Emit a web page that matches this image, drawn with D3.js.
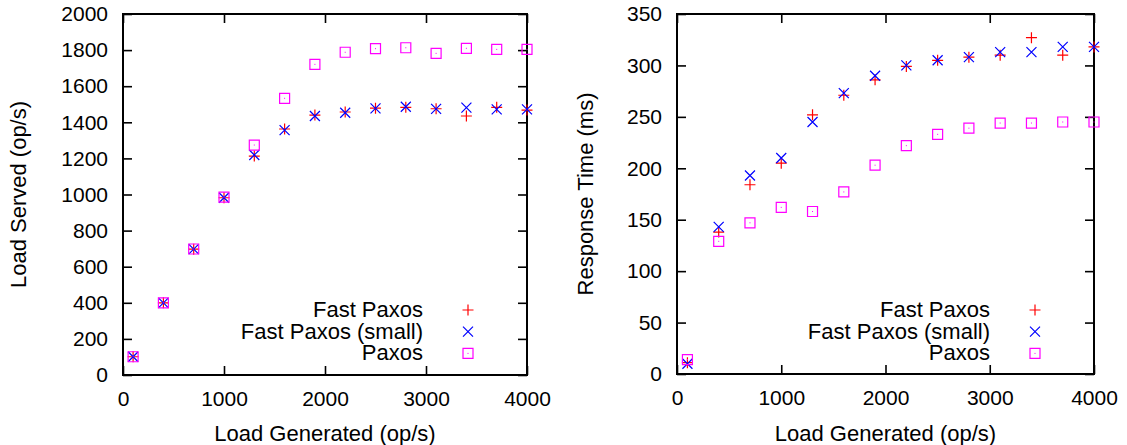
<html>
<head>
<script src="https://d3js.org/d3.v7.min.js"></script>
<style>
  html, body { margin: 0; padding: 0; background: #fff; }
  text { font-family: "Liberation Sans", Arial, sans-serif; fill: #000; }
</style>
</head>
<body>
<div id="chart"></div>
<script>
// offered load (x) shared by both panels
const loadGenerated = [100, 400, 700, 1000, 1300, 1600, 1900, 2200, 2500, 2800, 3100, 3400, 3700, 4000];

// left panel: load served (op/s)
const servedFast  = [101, 400, 697, 982, 1213, 1363, 1440, 1457, 1478, 1483, 1475, 1435, 1483, 1468];
const servedSmall = [101, 400, 697, 982, 1219, 1357, 1435, 1453, 1477, 1486, 1474, 1481, 1472, 1472];
const servedPaxos = [101, 400, 698, 985, 1274, 1533, 1721, 1788, 1808, 1813, 1782, 1810, 1804, 1804];

// right panel: response time (ms)
const respFast  = [11, 138, 184, 205, 252, 271, 286, 299, 305, 308, 310, 327, 310, 318];
const respSmall = [10, 143, 193, 210, 245, 273, 290, 300, 305, 308, 313, 313, 318, 318];
const respPaxos = [14, 129, 147, 162, 158, 177, 203, 222, 233, 239, 244, 244, 245, 245];

const seriesNames = ["Fast Paxos", "Fast Paxos (small)", "Paxos"];
const xTicks = [0, 1000, 2000, 3000, 4000];
const servedTicks = d3.range(0, 2001, 200);
const respTicks = d3.range(0, 351, 50);

const colors = ["#ff0000", "#0000ff", "#ff00ff"];
const shapes = ["plus", "cross", "square"];

const svg = d3.select("#chart").append("svg")
    .attr("width", 1127)
    .attr("height", 445);

function marker(g, shape, color, cx, cy) {
    let d;
    if (shape === "plus") {
        d = `M${cx - 5.5},${cy}H${cx + 5.5}M${cx},${cy - 5.5}V${cy + 5.5}`;
    } else if (shape === "cross") {
        d = `M${cx - 5},${cy - 5}L${cx + 5},${cy + 5}M${cx - 5},${cy + 5}L${cx + 5},${cy - 5}`;
    } else {
        d = `M${cx - 5},${cy - 5}H${cx + 5}V${cy + 5}H${cx - 5}Z`;
        g.append("rect")
            .attr("x", cx - 0.5).attr("y", cy - 0.5)
            .attr("width", 1).attr("height", 1)
            .attr("fill", color);
    }
    g.append("path")
        .attr("d", d)
        .attr("fill", "none")
        .attr("stroke", color)
        .attr("stroke-width", 1.2);
}

function drawPanel(p) {
    const x = d3.scaleLinear().domain([0, 4000]).range([p.left, p.right]);
    const y = d3.scaleLinear().domain([0, p.yMax]).range([p.bottom, p.top]);
    const g = svg.append("g");
    const fmt = d3.format("d");

    // inward ticks on all four sides
    const tickLen = 9;
    g.append("g")
        .attr("transform", `translate(0,${p.bottom})`)
        .call(d3.axisBottom(x).tickValues(xTicks).tickSize(-tickLen).tickPadding(16).tickFormat(fmt));
    g.append("g")
        .attr("transform", `translate(0,${p.top})`)
        .call(d3.axisTop(x).tickValues(xTicks).tickSize(-tickLen).tickFormat(""));
    g.append("g")
        .attr("transform", `translate(${p.left},0)`)
        .call(d3.axisLeft(y).tickValues(p.yTicks).tickSize(-tickLen).tickPadding(15).tickFormat(fmt));
    g.append("g")
        .attr("transform", `translate(${p.right},0)`)
        .call(d3.axisRight(y).tickValues(p.yTicks).tickSize(-tickLen).tickFormat(""));

    g.selectAll(".domain").remove();
    g.selectAll(".tick line").attr("stroke", "#000").attr("stroke-width", 1.6);
    g.selectAll(".tick text").attr("font-size", 21).attr("fill", "#000")
        .style("font-family", '"Liberation Sans", Arial, sans-serif');

    // frame
    g.append("rect")
        .attr("x", p.left).attr("y", p.top)
        .attr("width", p.right - p.left).attr("height", p.bottom - p.top)
        .attr("fill", "none").attr("stroke", "#000").attr("stroke-width", 2);

    // axis titles
    g.append("text")
        .attr("x", (p.left + p.right) / 2)
        .attr("y", 441)
        .attr("text-anchor", "middle")
        .attr("font-size", 22)
        .text("Load Generated (op/s)");
    g.append("text")
        .attr("transform", `translate(${p.yLabelX},${(p.top + p.bottom) / 2}) rotate(-90)`)
        .attr("text-anchor", "middle")
        .attr("font-size", 22)
        .text(p.yLabel);

    // points
    p.series.forEach((vals, i) => {
        const sg = g.append("g");
        vals.forEach((v, j) => marker(sg, shapes[i], colors[i], x(loadGenerated[j]), y(v)));
    });

    // legend
    seriesNames.forEach((name, i) => {
        const cy = 310 + i * 21.7;
        g.append("text")
            .attr("x", p.legendTextX)
            .attr("y", cy + 7)
            .attr("text-anchor", "end")
            .attr("font-size", 22)
            .text(name);
        marker(g, shapes[i], colors[i], p.legendMarkX, cy);
    });
}

drawPanel({
    left: 123, right: 527, top: 14, bottom: 375,
    yMax: 2000, yTicks: servedTicks,
    yLabel: "Load Served (op/s)", yLabelX: 26,
    series: [servedFast, servedSmall, servedPaxos],
    legendTextX: 423, legendMarkX: 468
});

drawPanel({
    left: 677, right: 1094, top: 14, bottom: 374,
    yMax: 350, yTicks: respTicks,
    yLabel: "Response Time (ms)", yLabelX: 593,
    series: [respFast, respSmall, respPaxos],
    legendTextX: 990, legendMarkX: 1035
});
</script>
</body>
</html>
